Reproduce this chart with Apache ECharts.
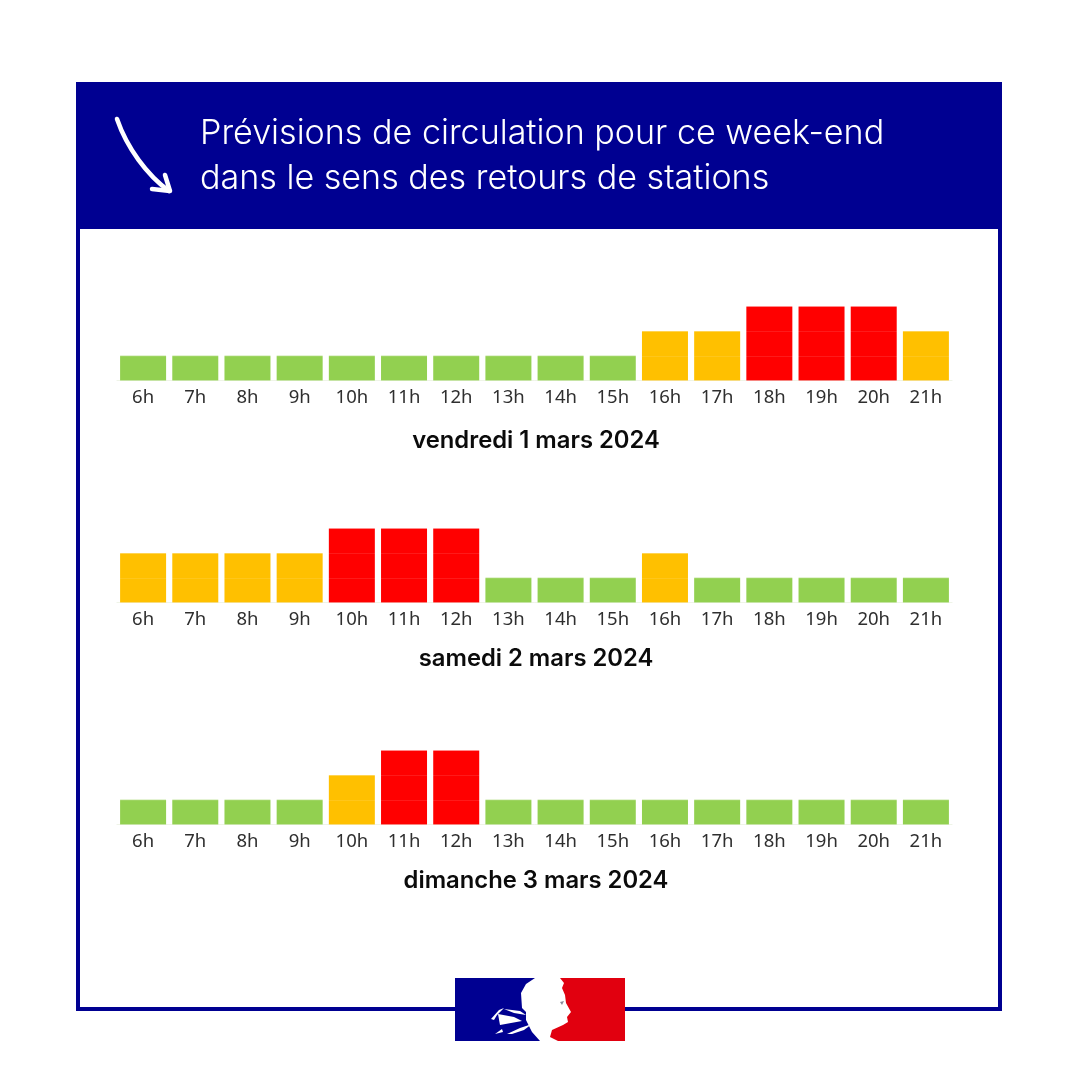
<!DOCTYPE html>
<html><head><meta charset="utf-8">
<style>html,body{margin:0;padding:0;background:#fff}#c{width:1080px;height:1080px}</style>
<script src="https://cdn.jsdelivr.net/npm/echarts@6/dist/echarts.min.js"></script>
</head><body><div id="c"></div>
<script>
const hours = ['6h','7h','8h','9h','10h','11h','12h','13h','14h','15h','16h','17h','18h','19h','20h','21h'];
const dayTitles = ['vendredi 1 mars 2024','samedi 2 mars 2024','dimanche 3 mars 2024'];
const friday = [1,1,1,1,1,1,1,1,1,1,2,2,3,3,3,2];
const saturday = [2,2,2,2,3,3,3,1,1,1,2,1,1,1,1,1];
const sunday = [1,1,1,1,2,3,3,1,1,1,1,1,1,1,1,1];
const days = [friday, saturday, sunday];
const levelColors = {1:'#92D050',2:'#FFC000',3:'#FF0000'};
const headerLines = 'Prévisions de circulation pour ce week-end\ndans le sens des retours de stations';
const navy = '#000091';
const baseTops = [306.5, 528.5, 750.5];
const titleTops = [429, 647, 869];
const chart = echarts.init(document.getElementById('c'), null, {renderer:'canvas'});
const L = (pts, fill) => ({type:'polygon', shape:{points:pts}, style:{fill}, silent:true});
chart.setOption({
  animation:false,
  backgroundColor:'#fff',
  title: dayTitles.map((t,i)=>({
    text:t, left:536, top:titleTops[i], textAlign:'center', padding:0,
    textStyle:{fontFamily:'Inter',fontWeight:600,fontSize:23.8,color:'#0b0b0b',lineHeight:24}
  })),
  grid: days.map((d,i)=>({left:117,width:835,top:baseTops[i],height:74,containLabel:false})),
  xAxis: days.map((d,i)=>({
    type:'category',gridIndex:i,data:hours,
    axisTick:{show:false},
    axisLine:{lineStyle:{color:'#eef3e6',width:1}},
    axisLabel:{fontFamily:'Noto Sans',fontSize:18.5,color:'#2f2f2f',margin:8,interval:0}
  })),
  yAxis: days.map((d,i)=>({type:'value',gridIndex:i,min:0,max:3,interval:1,z:5,
    axisLine:{show:false},axisTick:{show:false},axisLabel:{show:false},
    splitLine:{show:true,lineStyle:{color:'rgba(255,255,255,0.1)',width:1}}})),
  series: days.map((d,i)=>({
    type:'bar',xAxisIndex:i,yAxisIndex:i,barWidth:46,
    data:d.map(v=>({value:v,itemStyle:{color:levelColors[v]}})),
    silent:true
  })),
  graphic:[
    {type:'rect',z:-10,silent:true,shape:{x:78,y:84,width:922,height:925},style:{fill:'#fff',stroke:navy,lineWidth:4}},
    {type:'rect',z:-9,silent:true,shape:{x:76,y:82,width:926,height:147},style:{fill:navy}},
    {type:'text',z:5,silent:true,style:{x:200,y:111,text:headerLines,fill:'#fff',fontFamily:'Inter',fontWeight:300,fontSize:34.1,lineHeight:45,textAlign:'left',textVerticalAlign:'top'}},
    {type:'bezierCurve',z:5,silent:true,shape:{x1:117,y1:119,cpx1:127,cpy1:148,cpx2:147,cpy2:175,x2:169,y2:191},style:{stroke:'#fff',fill:'none',lineWidth:4.5,lineCap:'round'}},
    {type:'polyline',z:5,silent:true,shape:{points:[[152,189],[170,191],[165,175]]},style:{stroke:'#fff',fill:'none',lineWidth:4.5,lineCap:'round',lineJoin:'round'}},
    {type:'group',z:6,silent:true,children:[
      {type:'rect',silent:true,shape:{x:455,y:978,width:90,height:63},style:{fill:navy}},
      {type:'rect',silent:true,shape:{x:545,y:978,width:80,height:63},style:{fill:'#E1000F'}},
      L([[535,978],[560,978],[564,983],[562,988],[565,995],[566,1003],[571,1012],[567,1017],[568,1022],[563,1025],[552,1030],[550,1037],[558,1041],[540,1041],[532,1032],[526,1020],[526,1012],[522,1008],[521,993],[526,984]],'#fff'),
      L([[491,1019],[499,1010],[504,1008],[497,1015],[494,1020]],'#fff'),
      L([[498,1014],[514,1017],[522,1021],[511,1023],[500,1025]],'#fff'),
      L([[504,1009],[520,1011],[526,1015],[514,1013]],'#fff'),
      L([[507,1034],[520,1028],[532,1024],[524,1030],[512,1034]],'#fff'),
      L([[495,1034],[502,1029],[503,1032]],'#fff'),
      L([[560,1002],[564,1001],[562,1005]],'#8a8a9a')
    ]}
  ]
});
</script></body></html>
